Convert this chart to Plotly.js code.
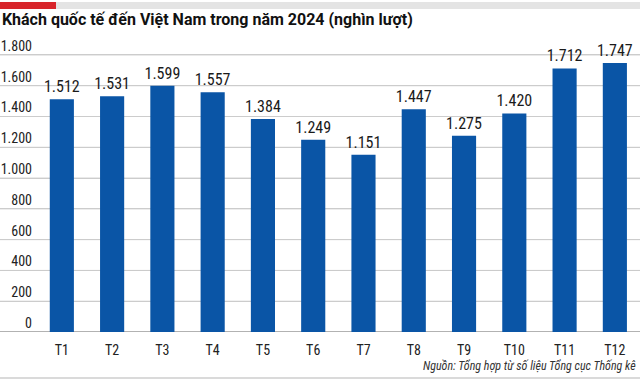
<!DOCTYPE html>
<html><head><meta charset="utf-8">
<script src="https://cdn.plot.ly/plotly-3.0.1.min.js"></script>
<style>html,body{margin:0;padding:0;background:#fff}#c{width:640px;height:380px}</style>
</head><body><div id="c"></div>
<script>
const months = ["T1","T2","T3","T4","T5","T6","T7","T8","T9","T10","T11","T12"];
const visitors = [1512,1531,1599,1557,1384,1249,1151,1447,1275,1420,1712,1747];
const yTicks = [0,200,400,600,800,1000,1200,1400,1600,1800];
const titleText = "Khách quốc tế đến Việt Nam trong năm 2024 (nghìn lượt)";
const sourceText = "Nguồn: Tổng hợp từ số liệu Tổng cục Thống kê";

const narrow = "'Liberation Sans Narrow', 'Roboto Condensed', 'DejaVu Sans Condensed', sans-serif";
const T = 30, B = 48, H = 380 - T - B;
const py = (px) => 1 - (px - T) / H;   // page pixel y -> paper y

// horizontal grid lines built from the tick values (drawn under the bars)
const gridX = [], gridY = [];
yTicks.filter(v => v > 0).forEach(v => { gridX.push(0, 1, null); gridY.push(v, v, null); });

Plotly.newPlot("c", [
  {type: "scatter", mode: "lines", x: gridX, y: gridY, xaxis: "x", yaxis: "y",
   line: {color: "#cccccc", width: 1}, hoverinfo: "skip", showlegend: false},
  {type: "scatter", mode: "lines", x: [0, 1], y: [0, 0], xaxis: "x", yaxis: "y",
   line: {color: "#666666", width: 1.2}, hoverinfo: "skip", showlegend: false},
  {type: "bar", x: months, y: visitors, xaxis: "x2", yaxis: "y",
   marker: {color: "#0a55a6"}, width: 0.48,
   texttemplate: "%{y:,}", textposition: "outside", constraintext: "none",
   textfont: {family: narrow, size: 16, color: "#1a1a1a"}, showlegend: false}
], {
  width: 640, height: 380,
  separators: ",.",
  margin: {l: 0, r: 0, t: T, b: B},
  showlegend: false,
  title: {text: titleText, x: 0.003, xanchor: "left", y: 1 - 19/380, yanchor: "middle",
          font: {family: "Roboto, sans-serif", size: 16, color: "#111", weight: 700}},
  xaxis: {range: [0, 1], visible: false, fixedrange: true},
  xaxis2: {type: "category", overlaying: "x", anchor: "y", side: "bottom",
           range: [-1.23, 11.5], showgrid: false,
           ticks: "outside", ticklen: 5, tickcolor: "rgba(0,0,0,0)",
           showline: false, zeroline: false,
           tickfont: {family: narrow, size: 14, color: "#222"}},
  yaxis: {range: [0, 1962], tickvals: yTicks, tickformat: ",", showgrid: true,
          gridcolor: "#cccccc", gridwidth: 1, zeroline: false,
          showline: false, anchor: "free", position: 32/640,
          ticklabelshift: -9,
          tickfont: {family: narrow, size: 14, color: "#222"}},
  shapes: [
    {type: "rect", xref: "paper", yref: "paper", x0: 0, x1: 56/640, y0: py(9), y1: py(2),
     fillcolor: "#d8252b", line: {width: 0}},
    {type: "rect", xref: "paper", yref: "paper", x0: 56/640, x1: 1, y0: py(9), y1: py(2),
     fillcolor: "#e4e4e4", line: {width: 0}},
    {type: "line", xref: "paper", yref: "paper", x0: 0, x1: 1, y0: py(378), y1: py(378),
     line: {color: "#b5b5b5", width: 1.2}}
  ],
  annotations: [{
    text: sourceText, xref: "paper", yref: "paper", x: 0.997, y: py(366),
    xanchor: "right", yanchor: "middle", showarrow: false,
    font: {family: narrow, size: 12, color: "#333", style: "italic"}
  }]
}, {displayModeBar: false, staticPlot: true});
</script></body></html>
